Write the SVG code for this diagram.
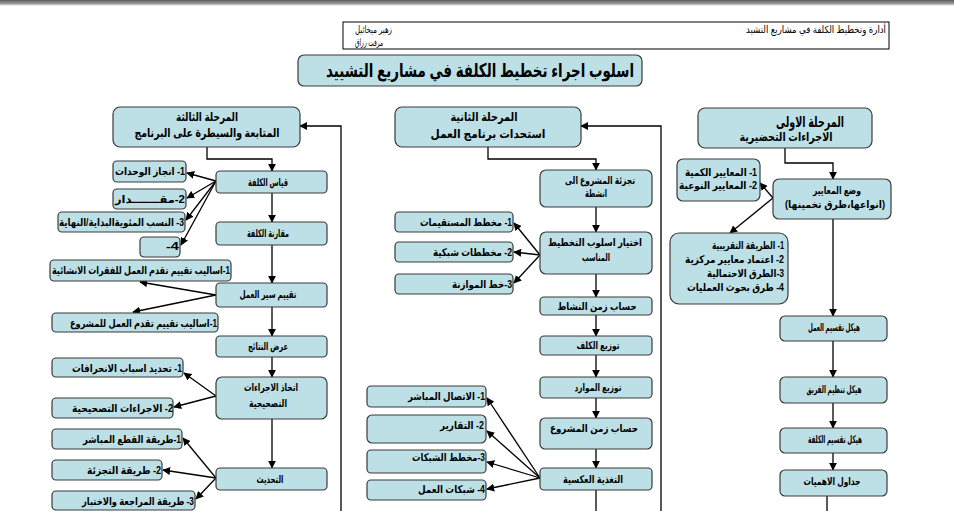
<svg xmlns="http://www.w3.org/2000/svg" width="954" height="511" viewBox="0 0 954 511">
<defs>
<linearGradient id="topbar" x1="0" y1="0" x2="0" y2="1">
<stop offset="0" stop-color="#5a5a5a"/>
<stop offset="0.6" stop-color="#9a9a9a"/>
<stop offset="1" stop-color="#ffffff"/>
</linearGradient>
<marker id="ah" viewBox="0 0 10 10" refX="9" refY="5" markerWidth="8" markerHeight="8" markerUnits="userSpaceOnUse" orient="auto">
<path d="M0,0 L10,5 L0,10 z" fill="#000"/>
</marker>
<style>
.b{fill:#bde0e6;stroke:#3a3a3a;stroke-width:1.2}
text{font-family:"Liberation Sans","DejaVu Sans",Arial,sans-serif;fill:#000;direction:rtl}
.c{text-anchor:middle;font-weight:bold;font-size:10.5px}
.r{text-anchor:start;font-weight:bold;font-size:10.5px}
.h{text-anchor:middle;font-weight:bold;font-size:12px}
.n{font-size:10px;text-anchor:start}
.ln{fill:none;stroke:#000;stroke-width:1.3}
.ar{fill:none;stroke:#000;stroke-width:1.3;marker-end:url(#ah)}
</style>
</defs>
<rect x="0" y="0" width="954" height="6" fill="url(#topbar)"/>
<rect x="0" y="6" width="954" height="505" fill="#fff"/>

<g id="header">
<rect x="343" y="22" width="546" height="27" fill="none" stroke="#000" stroke-width="1"/>
<text class="n" x="392" y="33" textLength="37" lengthAdjust="spacingAndGlyphs">زهير ميخائيل</text>
<text class="n" x="383" y="46" textLength="28" lengthAdjust="spacingAndGlyphs">مرفت رزاق</text>
<text class="n" x="886" y="33" textLength="140" lengthAdjust="spacingAndGlyphs">أدارة وتخطيط الكلفة في مشاريع التشيد</text>
</g>

<g id="title">
<rect class="b" x="298" y="55" width="344" height="31" rx="6"/>
<text x="480" y="77" textLength="308" lengthAdjust="spacingAndGlyphs" style="text-anchor:middle;font-weight:bold;font-size:19px">اسلوب اجراء تخطيط الكلفة في مشاريع التشييد</text>
</g>

<g id="connectors">
<polyline class="ar" points="785,148 785,163 833,163 833,179"/>
<polyline class="ar" points="488,147 488,159 596,159 596,170"/>
<polyline class="ar" points="207,147 207,159 272,159 272,171"/>
<polyline class="ar" points="661,511 661,126 581,126"/>
<polyline class="ar" points="341,511 341,126 300,126"/>
<line class="ar" x1="773" y1="198" x2="760" y2="183"/>
<line class="ar" x1="773" y1="198" x2="730" y2="233"/>
<line class="ar" x1="833" y1="219" x2="833" y2="316"/>
<line class="ar" x1="833" y1="341" x2="833" y2="377"/>
<line class="ar" x1="833" y1="403" x2="833" y2="428"/>
<line class="ar" x1="833" y1="453" x2="833" y2="470"/>
<line class="ln" x1="827" y1="496" x2="827" y2="511"/>
<line class="ar" x1="596" y1="207" x2="596" y2="232"/>
<line class="ar" x1="596" y1="274" x2="596" y2="297"/>
<line class="ar" x1="596" y1="315" x2="596" y2="336"/>
<line class="ar" x1="596" y1="355" x2="596" y2="377"/>
<line class="ar" x1="596" y1="398" x2="596" y2="418"/>
<line class="ar" x1="596" y1="449" x2="596" y2="468"/>
<line class="ln" x1="596" y1="490" x2="596" y2="511"/>
<line class="ar" x1="540" y1="255" x2="514" y2="223"/>
<line class="ar" x1="540" y1="255" x2="514" y2="252"/>
<line class="ar" x1="540" y1="255" x2="514" y2="283"/>
<line class="ar" x1="540" y1="478" x2="487" y2="398"/>
<line class="ar" x1="540" y1="478" x2="487" y2="431"/>
<line class="ar" x1="540" y1="478" x2="487" y2="462"/>
<line class="ar" x1="540" y1="478" x2="487" y2="489"/>
<line class="ar" x1="272" y1="193" x2="272" y2="222"/>
<line class="ar" x1="272" y1="245" x2="272" y2="283"/>
<line class="ar" x1="272" y1="307" x2="272" y2="336"/>
<line class="ar" x1="272" y1="357" x2="272" y2="377"/>
<line class="ar" x1="272" y1="419" x2="272" y2="468"/>
<line class="ar" x1="216" y1="181" x2="187" y2="173"/>
<line class="ar" x1="216" y1="181" x2="187" y2="198"/>
<line class="ar" x1="216" y1="181" x2="186" y2="220"/>
<line class="ar" x1="216" y1="181" x2="181" y2="245"/>
<line class="ar" x1="216" y1="295" x2="140" y2="282"/>
<line class="ar" x1="216" y1="295" x2="133" y2="312"/>
<line class="ar" x1="216" y1="396" x2="184" y2="373"/>
<line class="ar" x1="216" y1="396" x2="174" y2="407"/>
<line class="ar" x1="216" y1="478" x2="183" y2="438"/>
<line class="ar" x1="216" y1="478" x2="163" y2="470"/>
<line class="ar" x1="216" y1="478" x2="196" y2="499"/>
</g>

<g id="phase1">
<rect class="b" x="698" y="108" width="174" height="40" rx="7"/>
<text class="h" x="810" y="127" textLength="68" lengthAdjust="spacingAndGlyphs" style="font-size:15px">المرحلة الاولى</text>
<text class="h" x="786" y="141" textLength="93" lengthAdjust="spacingAndGlyphs">الاجراءات التحضيرية</text>
</g>
<g id="p1-criteria">
<rect class="b" x="773" y="179" width="118" height="40" rx="6"/>
<text class="c" x="837" y="194" textLength="48" lengthAdjust="spacingAndGlyphs">وضع المعايير</text>
<text class="c" x="835" y="208" textLength="100" lengthAdjust="spacingAndGlyphs">(انواعها،طرق تخمينها)</text>
</g>
<g id="p1-types">
<rect class="b" x="677" y="159" width="83" height="42" rx="6"/>
<text class="r" x="757" y="176" textLength="72" lengthAdjust="spacingAndGlyphs">1- المعايير الكمية</text>
<text class="r" x="757" y="189" textLength="78" lengthAdjust="spacingAndGlyphs">2- المعايير النوعية</text>
</g>
<g id="p1-methods">
<rect class="b" x="670" y="233" width="118" height="71" rx="9"/>
<text class="r" x="784" y="249" textLength="72" lengthAdjust="spacingAndGlyphs">1- الطريقة التقريبية</text>
<text class="r" x="784" y="263" textLength="99" lengthAdjust="spacingAndGlyphs">2- اعتماد معايير مركزية</text>
<text class="r" x="784" y="277" textLength="77" lengthAdjust="spacingAndGlyphs">3-الطرق الاحتمالية</text>
<text class="r" x="784" y="291" textLength="97" lengthAdjust="spacingAndGlyphs">4- طرق بحوث العمليات</text>
</g>
<g id="p1-wbs">
<rect class="b" x="780" y="316" width="107" height="25" rx="5"/>
<text class="c" x="834" y="331" textLength="52" lengthAdjust="spacingAndGlyphs">هيكل تقسيم العمل</text>
</g>
<g id="p1-obs">
<rect class="b" x="780" y="377" width="107" height="26" rx="5"/>
<text class="c" x="834" y="393" textLength="55" lengthAdjust="spacingAndGlyphs">هيكل تنظيم الفريق</text>
</g>
<g id="p1-cbs">
<rect class="b" x="780" y="428" width="107" height="25" rx="5"/>
<text class="c" x="835" y="443" textLength="54" lengthAdjust="spacingAndGlyphs">هيكل تقسيم الكلفة</text>
</g>
<g id="p1-tables">
<rect class="b" x="780" y="470" width="107" height="26" rx="5"/>
<text class="c" x="832" y="485" textLength="57" lengthAdjust="spacingAndGlyphs">جداول الاهميات</text>
</g>

<g id="phase2">
<rect class="b" x="395" y="107" width="186" height="40" rx="7"/>
<text class="h" x="484" y="121" textLength="67" lengthAdjust="spacingAndGlyphs">المرحلة الثانية</text>
<text class="h" x="488" y="138" textLength="115" lengthAdjust="spacingAndGlyphs">استحدات برنامج العمل</text>
</g>
<g id="p2-split">
<rect class="b" x="540" y="170" width="112" height="37" rx="6"/>
<text class="c" x="600" y="184" textLength="70" lengthAdjust="spacingAndGlyphs">تجزئة المشروع الى</text>
<text class="c" x="596" y="197" textLength="22" lengthAdjust="spacingAndGlyphs">انشطة</text>
</g>
<g id="p2-method">
<rect class="b" x="540" y="232" width="112" height="42" rx="6"/>
<text class="c" x="595" y="246" textLength="94" lengthAdjust="spacingAndGlyphs">اختيار اسلوب التخطيط</text>
<text class="c" x="596" y="261" textLength="28" lengthAdjust="spacingAndGlyphs">المناسب</text>
</g>
<g id="p2-m1">
<rect class="b" x="395" y="212" width="118" height="20" rx="4"/>
<text class="r" x="512" y="226" textLength="92" lengthAdjust="spacingAndGlyphs">1- مخطط المستقيمات</text>
</g>
<g id="p2-m2">
<rect class="b" x="395" y="242" width="118" height="20" rx="4"/>
<text class="r" x="512" y="256" textLength="79" lengthAdjust="spacingAndGlyphs">2- مخططات شبكية</text>
</g>
<g id="p2-m3">
<rect class="b" x="395" y="274" width="118" height="20" rx="4"/>
<text class="r" x="512" y="288" textLength="60" lengthAdjust="spacingAndGlyphs">3-خط الموازنة</text>
</g>
<g id="p2-acttime">
<rect class="b" x="540" y="297" width="112" height="18" rx="4"/>
<text class="c" x="597" y="310" textLength="79" lengthAdjust="spacingAndGlyphs">حساب زمن النشاط</text>
</g>
<g id="p2-costs">
<rect class="b" x="540" y="336" width="112" height="19" rx="4"/>
<text class="c" x="598" y="349" textLength="43" lengthAdjust="spacingAndGlyphs">توزيع الكلف</text>
</g>
<g id="p2-resources">
<rect class="b" x="540" y="377" width="112" height="21" rx="4"/>
<text class="c" x="598" y="391" textLength="47" lengthAdjust="spacingAndGlyphs">توزيع الموارد</text>
</g>
<g id="p2-projtime">
<rect class="b" x="540" y="418" width="112" height="31" rx="5"/>
<text class="c" x="594" y="432" textLength="88" lengthAdjust="spacingAndGlyphs">حساب زمن المشروع</text>
</g>
<g id="p2-feedback">
<rect class="b" x="540" y="468" width="112" height="22" rx="4"/>
<text class="c" x="593" y="483" textLength="60" lengthAdjust="spacingAndGlyphs">التغذية العكسية</text>
</g>
<g id="p2-f1">
<rect class="b" x="367" y="386" width="119" height="21" rx="4"/>
<text class="r" x="485" y="400" textLength="77" lengthAdjust="spacingAndGlyphs">1- الاتصال المباشر</text>
</g>
<g id="p2-f2">
<rect class="b" x="367" y="415" width="119" height="28" rx="5"/>
<text class="r" x="484" y="429" textLength="44" lengthAdjust="spacingAndGlyphs">2- التقارير</text>
</g>
<g id="p2-f3">
<rect class="b" x="367" y="450" width="119" height="23" rx="4"/>
<text class="r" x="485" y="461" textLength="73" lengthAdjust="spacingAndGlyphs">3-مخطط الشبكات</text>
</g>
<g id="p2-f4">
<rect class="b" x="367" y="480" width="119" height="20" rx="4"/>
<text class="r" x="485" y="493" textLength="67" lengthAdjust="spacingAndGlyphs">4- شبكات العمل</text>
</g>

<g id="phase3">
<rect class="b" x="113" y="107" width="187" height="40" rx="7"/>
<text class="h" x="207" y="121" textLength="62" lengthAdjust="spacingAndGlyphs">المرحلة الثالثة</text>
<text class="h" x="207" y="137" textLength="145" lengthAdjust="spacingAndGlyphs">المتابعة والسيطرة على البرنامج</text>
</g>
<g id="p3-measure">
<rect class="b" x="216" y="171" width="111" height="22" rx="4"/>
<text class="c" x="268" y="186" textLength="40" lengthAdjust="spacingAndGlyphs">قياس الكلفة</text>
</g>
<g id="p3-compare">
<rect class="b" x="216" y="222" width="111" height="23" rx="4"/>
<text class="c" x="268" y="237" textLength="42" lengthAdjust="spacingAndGlyphs">مقارنة الكلفة</text>
</g>
<g id="p3-evaluate">
<rect class="b" x="216" y="283" width="111" height="24" rx="4"/>
<text class="c" x="268" y="298" textLength="57" lengthAdjust="spacingAndGlyphs">تقييم سير العمل</text>
</g>
<g id="p3-results">
<rect class="b" x="216" y="336" width="111" height="21" rx="4"/>
<text class="c" x="268" y="350" textLength="40" lengthAdjust="spacingAndGlyphs">عرض النتائج</text>
</g>
<g id="p3-corrective">
<rect class="b" x="216" y="377" width="111" height="42" rx="6"/>
<text class="c" x="271" y="391" textLength="54" lengthAdjust="spacingAndGlyphs">اتخاذ الاجراءات</text>
<text class="c" x="268" y="407" textLength="38" lengthAdjust="spacingAndGlyphs">التصحيحية</text>
</g>
<g id="p3-update">
<rect class="b" x="216" y="468" width="111" height="22" rx="4"/>
<text class="c" x="270" y="483" textLength="27" lengthAdjust="spacingAndGlyphs">التحديث</text>
</g>
<g id="p3-q1">
<rect class="b" x="113" y="161" width="73" height="21" rx="4"/>
<text class="r" x="185" y="175" textLength="70" lengthAdjust="spacingAndGlyphs">1- انجاز الوحدات</text>
</g>
<g id="p3-q2">
<rect class="b" x="113" y="189" width="73" height="20" rx="4"/>
<text class="r" x="185" y="203" textLength="70" lengthAdjust="spacingAndGlyphs">2-مقـــــــدار</text>
</g>
<g id="p3-q3">
<rect class="b" x="58" y="212" width="127" height="20" rx="4"/>
<text class="r" x="184" y="226" textLength="125" lengthAdjust="spacingAndGlyphs">3- النسب المئويةالبداية/النهاية</text>
</g>
<g id="p3-q4">
<rect class="b" x="140" y="237" width="40" height="20" rx="4"/>
<text class="r" x="179" y="250" textLength="13" lengthAdjust="spacingAndGlyphs">4-</text>
</g>
<g id="p3-e1">
<rect class="b" x="50" y="260" width="181" height="21" rx="4"/>
<text class="r" x="230" y="274" textLength="178" lengthAdjust="spacingAndGlyphs">1-اساليب تقييم تقدم العمل للفقرات الانشائية</text>
</g>
<g id="p3-e2">
<rect class="b" x="52" y="313" width="166" height="19" rx="4"/>
<text class="r" x="217" y="327" textLength="147" lengthAdjust="spacingAndGlyphs">1-اساليب تقييم تقدم العمل للمشروع</text>
</g>
<g id="p3-c1">
<rect class="b" x="52" y="358" width="131" height="19" rx="4"/>
<text class="r" x="182" y="372" textLength="110" lengthAdjust="spacingAndGlyphs">1- تحديد اسباب الانحرافات</text>
</g>
<g id="p3-c2">
<rect class="b" x="52" y="398" width="121" height="20" rx="4"/>
<text class="r" x="173" y="412" textLength="101" lengthAdjust="spacingAndGlyphs">2- الاجراءات التصحيحية</text>
</g>
<g id="p3-u1">
<rect class="b" x="52" y="429" width="130" height="20" rx="4"/>
<text class="r" x="181" y="443" textLength="98" lengthAdjust="spacingAndGlyphs">1-طريقة القطع المباشر</text>
</g>
<g id="p3-u2">
<rect class="b" x="52" y="460" width="110" height="20" rx="4"/>
<text class="r" x="161" y="474" textLength="74" lengthAdjust="spacingAndGlyphs">2- طريقة التجزئة</text>
</g>
<g id="p3-u3">
<rect class="b" x="52" y="491" width="143" height="19" rx="4"/>
<text class="r" x="194" y="505" textLength="112" lengthAdjust="spacingAndGlyphs">3- طريقة المراجعة والاختبار</text>
</g>
</svg>
